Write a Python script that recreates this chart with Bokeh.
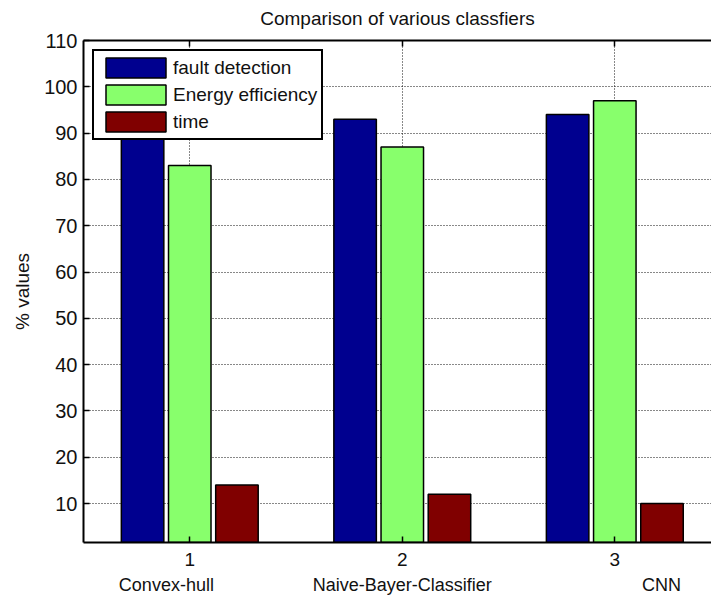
from bokeh.plotting import figure
from bokeh.models import (ColumnDataSource, FixedTicker, LinearAxis,
                          Legend, LegendItem, Range1d, Grid)
from bokeh.transform import dodge
from bokeh.embed import file_html
from bokeh.resources import INLINE

# ---- data ----
categories = ["Convex-hull", "Naive-Bayer-Classifier", "CNN"]
tick_labels = ["1", "2", "3"]
fault_detection = [92, 93, 94]
energy_efficiency = [83, 87, 97]
time_values = [14, 12, 10]
y_ticks = [10, 20, 30, 40, 50, 60, 70, 80, 90, 100, 110]
series_names = ["fault detection", "Energy efficiency", "time"]
series_colors = ["#00008F", "#88FF6C", "#800000"]
title_text = "Comparison of various classfiers"
y_label = "% values"

# ---- layout/style ----
FONT = "Liberation Sans"
FS = "19px"
TICK_FS = "20px"
category_label_offsets = [-0.11, 0.0, 0.22]

x = list(range(1, len(categories) + 1))
src = ColumnDataSource(dict(x=x, fd=fault_detection, ee=energy_efficiency, t=time_values))

p = figure(width=711, height=597, output_backend="svg", toolbar_location=None,
           x_range=Range1d(0.5, 3.455), y_range=Range1d(1.6, 110),
           min_border_left=83, min_border_top=40, min_border_bottom=55,
           min_border_right=0, x_axis_type=None, y_axis_type=None)
p.outline_line_color = None
p.background_fill_color = "white"
p.border_fill_color = "white"

# axes
ax_b = LinearAxis(ticker=FixedTicker(ticks=x),
                  major_label_overrides={xi: t for xi, t in zip(x, tick_labels)})
ax_l = LinearAxis(ticker=FixedTicker(ticks=y_ticks), axis_label=y_label)
ax_t = LinearAxis(ticker=FixedTicker(ticks=x), axis_label=title_text,
                  major_label_overrides={xi: "" for xi in x})
for ax in (ax_b, ax_l, ax_t):
    ax.axis_line_width = 2
    ax.axis_line_color = "black"
    ax.major_tick_in = 6
    ax.major_tick_out = 0
    ax.major_tick_line_color = "black"
    ax.major_tick_line_width = 1.5
    ax.minor_tick_line_color = None
    ax.major_label_text_font = FONT
    ax.major_label_text_font_size = TICK_FS
    ax.major_label_text_color = "#111111"
    ax.axis_label_text_font = FONT
    ax.axis_label_text_font_size = FS
    ax.axis_label_text_font_style = "normal"
    ax.axis_label_text_color = "#111111"
ax_t.major_label_text_font_size = "1px"
ax_t.major_label_standoff = 0
ax_t.axis_label_standoff = 12
ax_b.major_label_standoff = 10
ax_b.major_label_text_font_size = "19px"
ax_l.major_label_standoff = 6
ax_l.axis_label_standoff = 8
p.add_layout(ax_b, "below")
p.add_layout(ax_l, "left")
p.add_layout(ax_t, "above")

# second row of category names under the numeric ticks
name_pos = [xi + off for xi, off in zip(x, category_label_offsets)]
ax_n = LinearAxis(ticker=FixedTicker(ticks=name_pos),
                  major_label_overrides={pos: n for pos, n in zip(name_pos, categories)})
ax_n.axis_line_color = None
ax_n.major_tick_line_color = None
ax_n.minor_tick_line_color = None
ax_n.major_tick_in = 0
ax_n.major_tick_out = 0
ax_n.major_label_standoff = 6
ax_n.major_label_text_font = FONT
ax_n.major_label_text_font_size = "18px"
ax_n.major_label_text_color = "#111111"
p.add_layout(ax_n, "below")

# grids
for dim, ticks in ((0, x), (1, y_ticks)):
    g = Grid(dimension=dim, ticker=FixedTicker(ticks=ticks),
             grid_line_color="#111111", grid_line_dash="1 2", grid_line_width=1)
    p.add_layout(g)

# bars
renderers = []
for col, off, color in zip(["fd", "ee", "t"], [-0.222, 0.0, 0.222], series_colors):
    r = p.vbar(x=dodge("x", off), top=col, bottom=0, width=0.2, source=src,
               fill_color=color, line_color="black", line_width=1.5)
    renderers.append(r)

legend = Legend(items=[LegendItem(label=n, renderers=[r]) for n, r in zip(series_names, renderers)],
                location="top_left", margin=9, padding=4, spacing=2,
                glyph_width=75, glyph_height=25, label_standoff=0,
                label_text_font=FONT, label_text_font_size=FS, label_text_color="#111111",
                border_line_color="black", border_line_width=2, border_line_alpha=1.0,
                background_fill_color="white", background_fill_alpha=1.0)
p.add_layout(legend)

open("out.html", "w").write(file_html(p, INLINE))
